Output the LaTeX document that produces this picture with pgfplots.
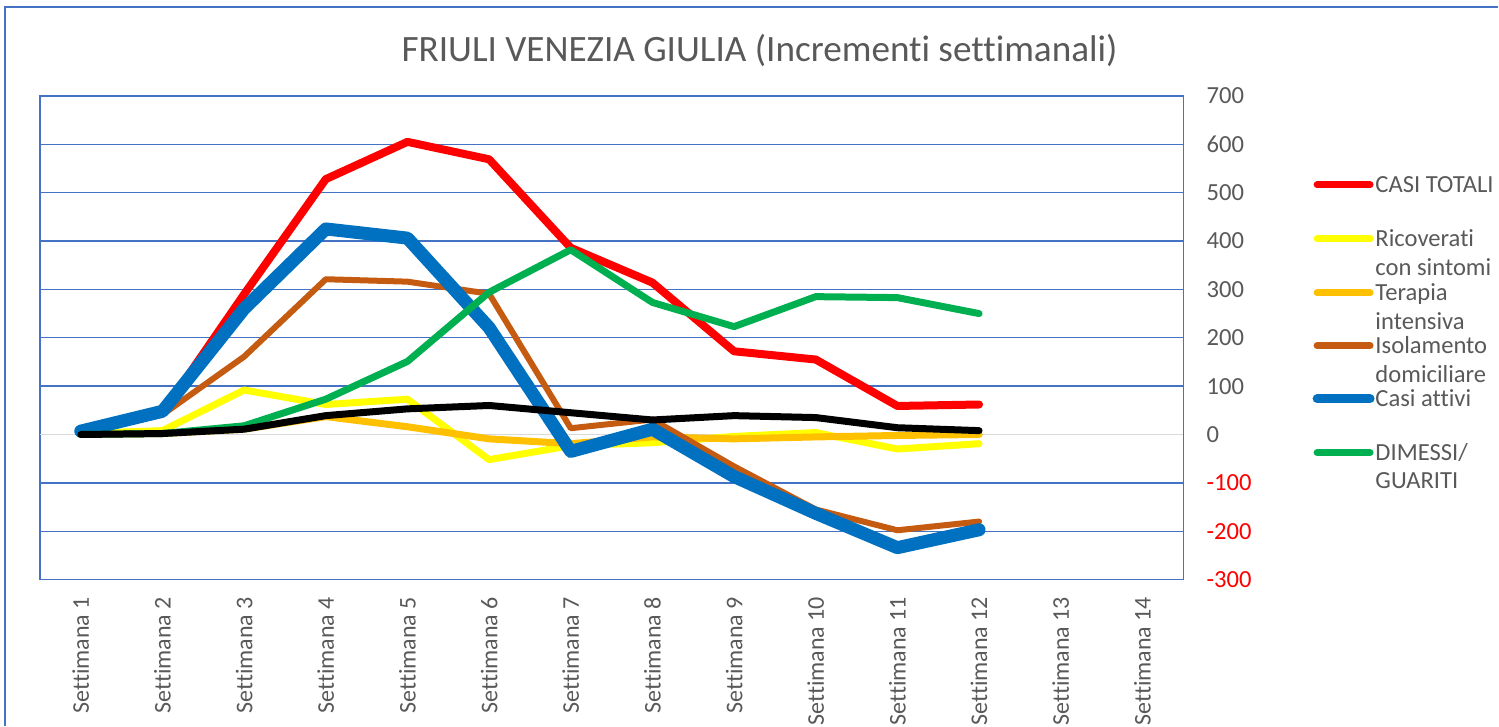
\documentclass[border=0pt]{standalone}
\usepackage{fontspec}
\setmainfont{Carlito}[Ligatures=NoCommon]
\usepackage{pgfplots}
\usepackage{pgfplotstable}
\pgfplotsset{compat=1.18}
\definecolor{cRed}{HTML}{FF0000}
\definecolor{cYellow}{HTML}{FFFF00}
\definecolor{cOrange}{HTML}{FFC000}
\definecolor{cBrown}{HTML}{C55A11}
\definecolor{cBlue}{HTML}{0070C0}
\definecolor{cGreen}{HTML}{00B050}
\definecolor{gridBlue}{HTML}{4472C4}
\definecolor{cGray}{HTML}{595959}
\definecolor{zeroGray}{HTML}{D9D9D9}

\pgfplotstableread{
x tot ric ter iso att dim dec
0 3 2 0 3 7 0 0
1 45 8 2 41 48 2 2
2 290 92 11 161 260 18 11
3 528 62 37 321 425 73 39
4 605 73 16 316 406 151 53
5 569 -52 -9 291 221 294 60
6 386 -23 -19 13 -35 382 45
7 314 -17 -5 31 11 273 30
8 172 -4 -9 -66 -87 223 39
9 155 4 -5 -155 -163 285 35
10 59 -30 -2 -198 -234 283 14
11 62 -19 0 -180 -197 250 8
}\data

\begin{document}
\begin{tikzpicture}
\begin{scope}[x=0.5pt,y=-0.5pt,shift={(0pt,363pt)}]
  \path[use as bounding box] (0,0) rectangle (1499,726);
\end{scope}
\begin{axis}[
  at={(20pt,73pt)}, anchor=south west,
  scale only axis, width=572pt, height=242pt,
  xmin=-0.5, xmax=13.5, ymin=-300, ymax=700,
  no markers,
  axis line style={color=gridBlue, line width=0.7pt},
  major tick length=0pt,
  ymajorgrids,
  grid style={color=gridBlue, line width=0.7pt},
  ytick={-300,-200,-100,100,200,300,400,500,600,700},
  yticklabels={\textcolor{cRed}{-300},\textcolor{cRed}{-200},\textcolor{cRed}{-100},100,200,300,400,500,600,700},
  extra y ticks={0},
  extra y tick labels={0},
  extra y tick style={grid style={color=zeroGray, line width=0.7pt}},
  yticklabel pos=right,
  yticklabel style={anchor=west, inner sep=0pt, xshift=11.5pt, text=cGray, font=\fontsize{12.3}{14}\selectfont},
  xtick={0,...,13},
  xticklabels={Settimana 1,Settimana 2,Settimana 3,Settimana 4,Settimana 5,Settimana 6,Settimana 7,Settimana 8,Settimana 9,Settimana 10,Settimana 11,Settimana 12,Settimana 13,Settimana 14},
  xticklabel style={rotate=90, anchor=east, inner sep=0pt, text=cGray, font=\fontsize{12}{14}\selectfont},
  xticklabel shift=8.5pt,
  every axis plot/.append style={line join=round, line cap=round},
]
\addplot[cRed, line width=4pt] table[x=x,y=tot]{\data};
\addplot[cYellow, line width=3.5pt] table[x=x,y=ric]{\data};
\addplot[cOrange, line width=3.5pt] table[x=x,y=ter]{\data};
\addplot[cBrown, line width=3pt] table[x=x,y=iso]{\data};
\addplot[cBlue, line width=6.5pt] table[x=x,y=att]{\data};
\addplot[cGreen, line width=3.5pt] table[x=x,y=dim]{\data};
\addplot[black, line width=3.5pt] table[x=x,y=dec]{\data};
\end{axis}
\begin{scope}[x=0.5pt,y=-0.5pt,shift={(0pt,363pt)}]
  \draw[gridBlue, line width=1pt] (5,726) -- (5,7) -- (1499,7);
  \node[anchor=base, text=cGray, font=\fontsize{18.6}{21}\selectfont, inner sep=0pt] at (760,61.7) {FRIULI VENEZIA GIULIA (Incrementi settimanali)};
  \tikzset{lg/.style={anchor=base west, inner sep=0pt, text=cGray, font=\fontsize{12.3}{14}\selectfont}}
  \draw[cRed, line width=3.5pt, line cap=round] (1318,185) -- (1371,185);
  \node[lg] at (1376,192.5) {CASI TOTALI};
  \draw[cYellow, line width=3.5pt, line cap=round] (1318,239) -- (1371,239);
  \node[lg] at (1376,246.5) {Ricoverati};
  \node[lg] at (1376,275.5) {con sintomi};
  \draw[cOrange, line width=3.5pt, line cap=round] (1318,293) -- (1371,293);
  \node[lg] at (1376,300.5) {Terapia};
  \node[lg] at (1376,329.5) {intensiva};
  \draw[cBrown, line width=3.5pt, line cap=round] (1318,346) -- (1371,346);
  \node[lg] at (1376,353.5) {Isolamento};
  \node[lg] at (1376,382.5) {domiciliare};
  \draw[cBlue, line width=4.5pt, line cap=round] (1318,399) -- (1371,399);
  \node[lg] at (1376,406.5) {Casi attivi};
  \draw[cGreen, line width=3.5pt, line cap=round] (1318,453) -- (1371,453);
  \node[lg] at (1376,460.5) {DIMESSI/};
  \node[lg] at (1376,488.5) {GUARITI};
\end{scope}
\end{tikzpicture}
\end{document}
